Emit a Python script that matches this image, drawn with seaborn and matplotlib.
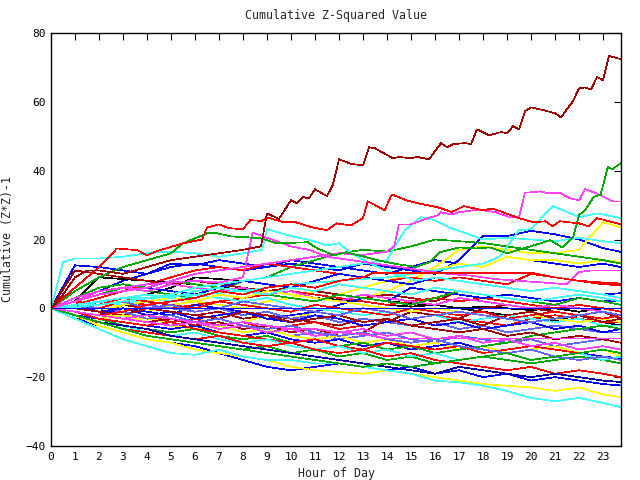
import matplotlib
matplotlib.use("Agg")
import matplotlib.pyplot as plt
import seaborn as sns
import pandas as pd

# ---------------- data ----------------
HOURS = [0, 1, 2, 3, 4, 5, 6, 7, 8, 9, 10, 11, 12, 13, 14, 15, 16, 17, 18, 19, 20, 21, 22, 23, 23.75]

COLORS = {
    "red": "#ff0000", "green": "#00a800", "blue": "#0000ff", "magenta": "#ff40ff",
    "cyan": "#40ffff", "darkred": "#a00000", "yellow": "#ffff00", "black": "#000000",
    "slate": "#6464ff", "navy": "#0000a0",
}

# detailed traces of the most visible series
darkred_top_h = [0, 0.5, 1, 1.5, 2, 3, 4, 5, 6, 7, 8, 8.75, 9, 9.5, 10, 10.25, 10.5, 10.75, 11, 11.5,
                 11.75, 12, 12.5, 13, 13.25, 13.5, 14.25, 14.5, 15, 15.25, 15.75, 16.25, 16.5, 16.75,
                 17.25, 17.5, 17.75, 18.25, 18.75, 19, 19.25, 19.5, 19.75, 20, 20.5, 21, 21.25, 21.75,
                 22, 22.25, 22.5, 22.75, 23, 23.25, 23.75]
darkred_top_v = [0, 4, 9, 11, 11, 10, 12, 14, 15, 16, 17, 18, 27.6, 26, 31.4, 30.5, 32.3, 32, 34.6, 32.6,
                 36, 43.3, 42, 41.5, 46.8, 46.5, 43.6, 44, 43.6, 44, 43.3, 48, 46.8, 47.7,
                 48, 47.7, 52, 50.3, 51.2, 50.9, 52.9, 52, 57.3, 58.4, 57.6, 56.7, 55.5, 60.2,
                 63.9, 64.2, 63.6, 67.2, 66.3, 73.3, 72.4]

red_b_h = [0, 1, 2, 2.75, 3.6, 4, 4.4, 5.5, 6.3, 6.5, 7, 7.4, 8, 8.3, 8.8, 9, 9.7, 10.2, 10.9, 11.5,
           11.9, 12.5, 13, 13.2, 13.9, 14.2, 14.8, 15.3, 16.1, 16.7, 17.2, 18, 18.4, 19.5, 20.1,
           20.6, 20.9, 21.2, 22, 22.4, 22.75, 23.1, 23.75]
red_b_v = [0, 6, 12, 17.4, 16.9, 15.4, 16.6, 18.9, 20, 23.5, 24.4, 23.3, 23, 25.6, 25.4, 26.4, 25, 25,
           23.5, 22.7, 24.7, 24.1, 26.2, 31.1, 28.5, 33.1, 31.4, 30.5, 29.4, 28, 29.7, 28.5, 29, 26.2,
           25, 25.3, 23.8, 25.3, 24.7, 23.8, 26.2, 25.6, 24.4]

green_c_h = [0, 1, 2, 3, 4, 5, 5.5, 6.5, 6.8, 7.5, 8.3, 8.8, 9.4, 10.7, 11.1, 11.8, 12.3, 13.6, 14.3,
             15.2, 15.8, 16.2, 17, 17.7, 18.3, 19, 20.4, 20.8, 21.3, 21.75, 22, 22.3, 22.6, 22.9,
             23.2, 23.4, 23.75]
green_c_v = [0, 5, 9, 12, 14, 16, 18.9, 21.8, 22, 20.9, 20.6, 20.3, 18.9, 19.2, 17.4, 15.4, 16.3, 14,
             13, 12, 13.4, 16.3, 17.7, 17.4, 17.7, 16, 18.9, 19.8, 17.7, 20.6, 27, 29, 32.3, 33,
             41, 40.5, 42.2]

magenta_top_h = [0, 1, 2, 3, 4, 5, 6, 7, 8, 9, 10, 11, 12, 13, 14, 14.3, 14.5, 15, 15.7, 16.1, 16.25,
                 16.7, 17, 17.6, 18, 18.5, 19.1, 19.5, 19.75, 20, 20.4, 20.7, 21.2, 21.6, 22, 22.25,
                 22.75, 23.4, 23.75]
magenta_top_v = [0, 2, 4, 5, 6, 8, 10, 11, 12, 13, 14, 15, 16, 15.5, 16.5, 18, 24.4, 24.4, 26.2, 27,
                 27.9, 27.3, 27.9, 28.5, 28.5, 28, 26.5, 26.5, 33.7, 33.7, 34, 33.4, 33.6, 32, 31.4,
                 34.6, 33.4, 31.1, 31]

magenta2_h = [0, 1, 2, 3, 4, 5, 6, 7, 8, 8.4, 8.8, 9.2, 10, 10.8, 11.5, 12.5, 13.5, 14.5, 15.5, 16.5,
              17.5, 18.5, 19.5, 20.5, 21.5, 22, 22.5, 23.75]
magenta2_v = [0, 3, 5, 6, 7, 7.5, 8, 7.5, 9, 22, 21, 20, 18, 16.9, 15, 14, 13, 12, 11, 10,
              9.5, 8.5, 8, 7.5, 7, 10.5, 11, 11]

cyan_top1_h = [0, 1, 2, 3, 4, 5, 6, 7, 8, 9, 10, 11, 12, 13, 14, 14.5, 14.75, 15.4, 16, 16.6, 17.3,
               18, 19, 20, 21, 22, 23, 23.75]
cyan_top1_v = [0, 1, 2, 3, 3, 4, 6, 7, 8, 9, 10, 11, 12, 13, 14, 20, 22.7, 26.5, 25.6, 23.5, 21.8,
               20, 20.5, 20, 19.5, 20.5, 19.5, 18.9]

cyan_top2_h = [0, 2, 4, 6, 8, 10, 12, 14, 16, 17, 18, 18.7, 19.5, 20, 20.9, 21.5, 22, 22.75, 23.2, 23.75]
cyan_top2_v = [0, 1, 3, 4, 5, 7, 8, 9, 11, 12, 13, 15, 22.7, 23, 29.7, 28, 26.5, 27.6, 27, 26.2]

cyan_d_h = [0, 0.5, 1, 2, 3, 4, 5, 6, 7, 8, 8.8, 9, 10, 10.8, 11.5, 12, 12.5, 13.3, 14.3, 15.2, 16,
            17, 18, 19, 20, 21, 22, 23, 23.75]
cyan_d_v = [0, 13.4, 14.5, 14.5, 15, 16, 16.5, 16, 15, 16, 17, 23, 21, 19.8, 18.3, 18.9, 16, 13, 10,
            8, 9, 8, 7, 6, 5, 6, 5, 4, 3]

red_flat_h = [0, 1, 2, 3, 4, 5, 6, 7, 8, 9, 10, 11, 12, 13, 13.4, 20.1, 21, 22, 23, 23.75]
red_flat_v = [0, -1, -2, -1, 1, 2, 3, 5, 4, 6, 7, 6, 8, 9, 10.2, 10.2, 9, 8, 7.5, 7.2]

magenta_flat_h = [0, 1, 2, 3, 4, 5, 6, 7, 8, 9, 10, 11, 12, 13, 14, 23.75]
magenta_flat_v = [0, -1, -2, -3, -2, -3, -4, -5, -4, -5, -6, -6, -7, -7.5, -8.8, -8.8]

blue_flat_h = [0, 23.75]
blue_flat_v = [0, 0]

# hourly series (values at HOURS)
u_blue1 = [0, 3, 5, 8, 10, 12, 13, 12, 11, 12, 13, 12, 11, 13, 12, 11, 10, 14, 21, 21, 22.5, 21.5, 20, 17.5, 16.4]
u_blue2 = [0, 12.5, 12, 11, 10, 13, 12.5, 14, 13, 12, 14, 13, 12, 11, 10, 12, 14, 13, 12, 15, 14, 13, 12, 13, 12]
u_yellow1 = [0, -1, -2, -2, -3, -4, -3, -5, -4, -2, -3, -1, 1, 3, 5, 8, 12, 17, 18, 17, 16, 16, 17, 25, 23.5]
u_yellow2 = [0, 1, 2, 0, -1, 1, 2, 1, 0, 2, 3, 5, 4, 6, 8, 10, 11, 13, 12, 15, 14, 14, 13, 14, 13.5]
u_green2 = [0, 2, 4, 6, 5, 4, 3, 5, 8, 9, 12, 14, 16, 17, 16.5, 18, 20, 19.5, 19, 18, 17, 16, 15, 14, 13]
u_red2 = [0, 1, 3, 5, 7, 9, 11, 12, 11, 13, 12, 11, 10, 9, 8, 9, 8, 9, 8, 7, 10, 9, 8, 7, 6.7]
m_black1 = [0, 2, 9, 8.5, 8, 7.5, 7, 6, 5.5, 5, 4, 3, 2.5, 2, 1, 0.5, 1, 0, 0.5, 0, -0.5, 0, -1, 0, -1]
m_black2 = [0, 1, 2, 3, 4, 6, 9, 8.5, 8, 7, 6, 5, 4, 3, 2, 1.5, 1, 0, -1, -2, -3, -3.5, -2, -4, -5]
m_darkred1 = [0, 11, 10, 9, 8, 7, 8, 7, 6, 5, 6, 5, 4, 3, 4, 3, 2, 5, 4, 3, 2, 1, 0, -1, -2]
m_darkred2 = [0, -1, -2, 1, 0, -1, -2, -1, -3, -2, -3, -4, -5, -3, -4, -1, -2, -3, 0, 1, 0, -1, -2, -1, -3]
m_red3 = [0, 1, 0, 2, 1, 0, 1, 2, 3, 4, 5, 4, 3, 2, 1, 2, 3, 2, 3, 2, 1, 0, 1, 0, -1]
m_red4 = [0, -1, -2, -3, -2, -4, -3, -5, -4, -6, -5, -4, -6, -5, -4, -3, -2, -3, -4, -5, -3, -2, -3, -4, -4]
m_blue3 = [0, 2, 4, 5, 6, 5, 4, 6, 8, 7, 6, 8, 10, 9, 8, 7, 9, 8, 7, 6, 5, 6, 5, 4, 4.4]
m_blue4 = [0, -1, -2, 0, -1, -2, 1, 0, -1, -3, -2, -1, 1, 3, 2, 6, 5, 4, 3, 4, 3, 2, 3, 2, 2.3]
m_slate1 = [0, 1, 0, -1, 1, 0, -1, 0, -2, -1, -3, -2, -4, -3, -4, -5, -4, -6, -5, -7, -6, -5, -6, -7, -7]
m_slate2 = [0, -2, -3, -4, -5, -4, -6, -5, -7, -6, -8, -7, -9, -8, -7, -9, -10, -8, -9, -10, -9, -11, -10, -9, -10]
m_magenta3 = [0, 2, 5, 6, 5, 7, 6, 5, 6, 4, 5, 3, 2, 4, 3, 2, 1, 3, 2, 1, 0, 1, 0, -1, -2]
m_cyan3 = [0, 1, 2, 1, 3, 2, 4, 3, 2, 3, 1, 0, -1, -2, -1, -3, -2, -4, -3, -2, -3, -4, -3, -5, -5]
m_yellow3 = [0, 0, -1, 1, 2, 3, 2, 4, 3, 5, 4, 3, 2, 1, 0, -1, 0, -1, -2, -3, -2, -3, -4, -3, -4]
m_green3 = [0, 3, 6, 7, 6, 8, 7, 6, 5, 4, 3, 2, 4, 3, 2, 1, 3, 5, 4, 3, 2, 1, 3, 2, 1]
x_red7 = [0, 2, 1, 3, 2, 1, 0, 2, 1, 0, -1, 1, 0, -1, -2, 0, -1, -2, -1, -3, -2, -1, -2, -3, -2]
x_blue8 = [0, 1, -1, 0, -2, -1, -3, -2, -1, -3, -4, -2, -3, -5, -4, -3, -5, -4, -6, -5, -4, -6, -5, -7, -6]
x_darkred4 = [0, 0, -1, -2, 0, -1, -2, -3, -1, -2, -4, -3, -2, -4, -3, -5, -4, -3, -5, -2, -1, -3, -2, -4, -3]
x_slate4 = [0, 0, 1, 2, 0, 1, -1, 0, 2, 1, 0, -1, -2, 0, -1, -3, -2, -1, -2, -3, -4, -3, -2, -1, -2]
x_yellow5 = [0, -1, -3, -2, -4, -5, -6, -5, -7, -6, -8, -9, -8, -10, -9, -11, -10, -12, -11, -13, -12, -11, -13, -12, -14]
x_cyan6 = [0, 0, 2, 3, 4, 3, 5, 6, 5, 4, 6, 5, 7, 6, 5, 4, 6, 5, 4, 3, 2, 3, 4, 3, 2]
l_blue5 = [0, -2, -3, -4, -5, -6, -5, -7, -8, -7, -9, -10, -9, -11, -10, -12, -11, -10, -12, -13, -12, -14, -13, -14, -14.6]
l_green4 = [0, -1, -3, -5, -6, -7, -6, -8, -9, -8, -10, -9, -11, -10, -12, -11, -13, -12, -11, -10, -8, -7, -6, -5, -6]
l_green5 = [0, -2, -4, -6, -8, -9, -10, -11, -12, -11, -13, -12, -14, -13, -15, -14, -16, -15, -14, -15, -16, -15, -14, -15, -16]
l_red5 = [0, -1, -3, -4, -5, -4, -6, -7, -8, -9, -10, -9, -11, -12, -10, -11, -12, -11, -13, -12, -11, -12, -13, -12, -13]
l_darkred3 = [0, -1, -2, -3, -4, -3, -5, -4, -6, -5, -7, -6, -8, -7, -3, -5, -6, -7, -6, -8, -7, -9, -8, -9, -10]
l_magenta4 = [0, -1, -2, -3, -4, -5, -4, -6, -5, -7, -6, -8, -7, -6, -8, -7, -9, -8, -10, -9, -11, -10, -12, -11, -12]
l_cyan4 = [0, -2, -4, -5, -7, -8, -7, -9, -10, -9, -11, -12, -11, -13, -12, -14, -13, -15, -14, -13, -12, -14, -13, -15, -14]
l_slate3 = [0, -1, -2, -1, -3, -2, -4, -3, -5, -6, -5, -7, -8, -7, -9, -10, -9, -11, -12, -13, -12, -14, -15, -14, -15]
l_red6 = [0, -3, -4, -6, -7, -8, -9, -8, -10, -11, -10, -12, -13, -12, -14, -13, -15, -16, -17, -18, -17, -19, -18, -19, -20]
b_blue6 = [0, -3, -5, -7, -9, -10, -11, -13, -15, -17, -18, -17, -16, -17, -18, -17, -19, -18, -20, -19, -21, -20, -21, -22, -22.4]
b_navy7 = [0, -2, -4, -5, -6, -8, -9, -10, -11, -12, -13, -14, -15, -16, -17, -18, -19, -17, -18, -19, -20, -19, -20, -21, -21.4]
b_yellow4 = [0, -2, -5, -7, -9, -10, -12, -13, -14, -15, -17, -18, -18.5, -19, -18, -19, -20, -21, -22, -22.5, -23, -24, -23, -25, -25.8]
b_cyan5 = [0, -3, -6, -9, -11, -13, -13.5, -12, -14, -15, -15, -16, -16, -17, -18, -19, -21, -21.5, -22.5, -24, -26, -27, -26, -27.5, -28.7]
b_green6 = [0, -2, -4, -6, -8, -9, -10, -11, -12, -13, -14, -15, -16, -17, -16, -17, -16, -15, -14, -13, -15, -14, -13, -12, -13]

# (name, colour key, hours, values)
SERIES = [
    ("u_blue1", "blue", HOURS, u_blue1), ("u_blue2", "blue", HOURS, u_blue2),
    ("u_yellow1", "yellow", HOURS, u_yellow1), ("u_yellow2", "yellow", HOURS, u_yellow2),
    ("u_green2", "green", HOURS, u_green2), ("u_red2", "red", HOURS, u_red2),
    ("m_black1", "black", HOURS, m_black1), ("m_black2", "black", HOURS, m_black2),
    ("m_darkred1", "darkred", HOURS, m_darkred1), ("m_darkred2", "darkred", HOURS, m_darkred2),
    ("m_red3", "red", HOURS, m_red3), ("m_red4", "red", HOURS, m_red4),
    ("m_blue3", "blue", HOURS, m_blue3), ("m_blue4", "blue", HOURS, m_blue4),
    ("m_slate1", "slate", HOURS, m_slate1), ("m_slate2", "slate", HOURS, m_slate2),
    ("m_magenta3", "magenta", HOURS, m_magenta3), ("m_cyan3", "cyan", HOURS, m_cyan3),
    ("m_yellow3", "yellow", HOURS, m_yellow3), ("m_green3", "green", HOURS, m_green3),
    ("x_red7", "red", HOURS, x_red7), ("x_blue8", "blue", HOURS, x_blue8),
    ("x_darkred4", "darkred", HOURS, x_darkred4), ("x_slate4", "slate", HOURS, x_slate4),
    ("x_yellow5", "yellow", HOURS, x_yellow5), ("x_cyan6", "cyan", HOURS, x_cyan6),
    ("l_blue5", "blue", HOURS, l_blue5), ("l_green4", "green", HOURS, l_green4),
    ("l_green5", "green", HOURS, l_green5), ("l_red5", "red", HOURS, l_red5),
    ("l_darkred3", "darkred", HOURS, l_darkred3), ("l_magenta4", "magenta", HOURS, l_magenta4),
    ("l_cyan4", "cyan", HOURS, l_cyan4), ("l_slate3", "slate", HOURS, l_slate3),
    ("l_red6", "red", HOURS, l_red6), ("b_blue6", "blue", HOURS, b_blue6),
    ("b_navy7", "navy", HOURS, b_navy7), ("b_yellow4", "yellow", HOURS, b_yellow4),
    ("b_cyan5", "cyan", HOURS, b_cyan5), ("b_green6", "green", HOURS, b_green6),
    ("cyan_d", "cyan", cyan_d_h, cyan_d_v), ("cyan_top1", "cyan", cyan_top1_h, cyan_top1_v),
    ("cyan_top2", "cyan", cyan_top2_h, cyan_top2_v), ("magenta2", "magenta", magenta2_h, magenta2_v),
    ("magenta_top", "magenta", magenta_top_h, magenta_top_v),
    ("red_flat", "red", red_flat_h, red_flat_v), ("magenta_flat", "magenta", magenta_flat_h, magenta_flat_v),
    ("blue_flat", "blue", blue_flat_h, blue_flat_v),
    ("green_c", "green", green_c_h, green_c_v), ("red_b", "red", red_b_h, red_b_v),
    ("darkred_top", "darkred", darkred_top_h, darkred_top_v),
]

rows = []
for name, ckey, hs, vs in SERIES:
    for h, v in zip(hs, vs):
        rows.append({"hour": h, "value": v, "series": name})
df = pd.DataFrame(rows)
palette = {name: COLORS[ckey] for name, ckey, _, _ in SERIES}

# ---------------- plot ----------------
sns.set_theme(style="white")
plt.rcParams["font.family"] = ["DejaVu Sans Mono"]

fig = plt.figure(figsize=(6.4, 4.8), dpi=100)
ax = fig.add_axes([51 / 640, 1 - 446 / 480, 570 / 640, 413 / 480])

sns.lineplot(data=df, x="hour", y="value", hue="series", palette=palette,
             estimator=None, sort=False, legend=False, linewidth=0.5,
             antialiased=False, ax=ax)

ax.set_xlim(0, 23.75)
ax.set_ylim(-40, 80)
ax.set_xticks(list(range(0, 24)))
ax.set_xticklabels([str(i) for i in range(0, 24)])
ax.set_yticks([-40, -20, 0, 20, 40, 60, 80])
ax.tick_params(direction="in", length=5, width=0.8, top=True, right=True,
               labelsize=8, colors="black", pad=4)
for s in ax.spines.values():
    s.set_color("black")
    s.set_linewidth(1.0)
    s.set_visible(True)

ax.set_title("Cumulative Z-Squared Value", fontsize=8.4, pad=10)
ax.set_xlabel("Hour of Day", fontsize=8.4, labelpad=4)
ax.set_ylabel("Cumulative (Z*Z)-1", fontsize=8.4, labelpad=8)

fig.savefig("out.png", dpi=100, facecolor="white")
